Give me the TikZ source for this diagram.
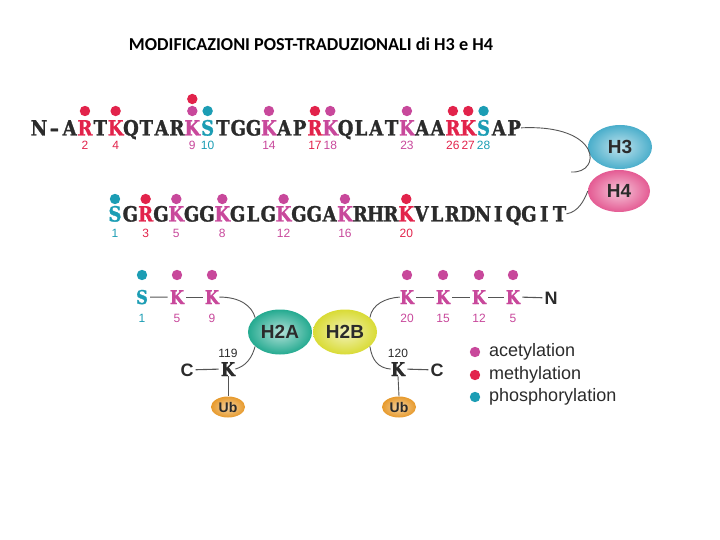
\documentclass[tikz,border=0pt]{standalone}
\usepackage{fontspec}
\setmainfont{Liberation Sans}
\newfontfamily\seqfont{DejaVu Serif}[BoldFeatures={FakeBold=1.3}, FakeStretch=0.86]
\newfontfamily\titlefont{Carlito}
\usetikzlibrary{shapes.geometric}
\definecolor{acet}{HTML}{C8489B}
\definecolor{meth}{HTML}{E2234B}
\definecolor{phos}{HTML}{1C9DB4}
\definecolor{txt}{HTML}{2B2B2B}
\definecolor{lin}{HTML}{555555}
\definecolor{hthree}{HTML}{4AAECB}
\definecolor{hfour}{HTML}{E45B93}
\definecolor{htwoa}{HTML}{24AA90}
\definecolor{htwob}{HTML}{D9DB35}
\definecolor{ubc}{HTML}{E79A2C}
\tikzset{
  seqA/.style={font=\seqfont\bfseries\fontsize{21}{21}\selectfont, inner sep=0pt, anchor=base},
  seqB/.style={font=\seqfont\bfseries\fontsize{19}{19}\selectfont, inner sep=0pt, anchor=base},
  sansL/.style={font=\bfseries\fontsize{18}{18}\selectfont, inner sep=0pt, anchor=base, text=txt},
  num/.style={font=\fontsize{12}{12}\selectfont, inner sep=0pt},
  hist/.style={ellipse, inner sep=0pt, minimum width=64pt, minimum height=44pt,
     font=\bfseries\fontsize{19}{19}\selectfont, text=txt},
  ubnode/.style={ellipse, inner sep=0pt, minimum width=34pt, minimum height=21pt,
     shade, inner color=ubc!45!white, outer color=ubc,
     font=\bfseries\fontsize{14}{14}\selectfont, text=txt},
  conn/.style={draw=lin, line width=0.9pt},
  bond/.style={draw=lin, line width=1.1pt, shorten <=2pt, shorten >=2pt},
  legtext/.style={font=\fontsize{18}{18}\selectfont, anchor=west, text=txt, inner sep=0pt},
}
\begin{document}
\begin{tikzpicture}[x=1pt,y=-1pt]
\useasboundingbox (0,0) rectangle (720,540);

% title
\node[font=\titlefont\bfseries\fontsize{18.2}{18.2}\selectfont, text=black] (title) at (311,44)
  {MODIFICAZIONI POST-TRADUZIONALI di H3 e H4};

% H3 sequence
\foreach \ch/\c [count=\i from 0] in {N/txt,–/txt,A/txt,R/meth,T/txt,K/meth,Q/txt,T/txt,A/txt,R/txt,K/acet,S/phos,T/txt,G/txt,G/txt,K/acet,A/txt,P/txt,R/meth,K/acet,Q/txt,L/txt,A/txt,T/txt,K/acet,A/txt,A/txt,R/meth,K/meth,S/phos,A/txt,P/txt}
  \node[seqA, text=\c] (a\i) at (39+\i*15.33,135.5) {\ch};
\foreach \i/\c/\n [evaluate=\i as \x using 39+\i*15.33] in {3/meth/2,5/meth/4,10/acet/9,11/phos/10,15/acet/14,18/meth/17,19/acet/18,24/acet/23,27/meth/26,28/meth/27,29/phos/28}{
  \fill[\c] (\x,111) circle (5.2);
  \node[num, text=\c] (na\i) at (\x,145.5) {\n};
}
\fill[meth] (39+10*15.33,99) circle (5.2);

% H4 sequence
\foreach \ch/\c [count=\i from 0] in {S/phos,G/txt,R/meth,G/txt,K/acet,G/txt,G/txt,K/acet,G/txt,L/txt,G/txt,K/acet,G/txt,G/txt,A/txt,K/acet,R/txt,H/txt,R/txt,K/meth,V/txt,L/txt,R/txt,D/txt,N/txt,I/txt,Q/txt,G/txt,I/txt,T/txt}
  \node[seqA, text=\c] (b\i) at (115+\i*15.33,221.5) {\ch};
\foreach \i/\c/\n [evaluate=\i as \x using 115+\i*15.33] in {0/phos/1,2/meth/3,4/acet/5,7/acet/8,11/acet/12,15/acet/16,19/meth/20}{
  \fill[\c] (\x,199) circle (5.2);
  \node[num, text=\c] (nb\i) at (\x,233.5) {\n};
}

% connectors to H3 / H4
\coordinate (h3end) at (571,172);
\node[hist, shade, inner color=hthree!35!white, outer color=hthree] (h3) at (620,147) {H3};
\node[hist, shade, inner color=hfour!35!white, outer color=hfour, minimum width=62pt, minimum height=42pt] (h4) at (619,191) {H4};
\draw[conn] (a31.east) .. controls (602,124) and (602,174) .. (h3end);
\draw[conn] (b29.east) .. controls (578,212) and (584,201) .. (h4.west);

% H2A / H2B
\node[hist, shade, inner color=htwoa!35!white, outer color=htwoa, minimum height=45pt] (h2a) at (280,332) {H2A};
\node[hist, shade, inner color=htwob!35!white, outer color=htwob, minimum height=45pt] (h2b) at (345,332) {H2B};

% H2A N-terminal
\node[seqB, text=phos] (s1) at (142,304) {S};
\node[seqB, text=acet] (k5) at (177,304) {K};
\node[seqB, text=acet] (k9) at (212,304) {K};
\fill[phos] (142,275) circle (5.2);
\fill[acet] (177,275) circle (5.2);
\fill[acet] (212,275) circle (5.2);
\node[num, text=phos] (n1) at (142,318) {1};
\node[num, text=acet] (n5) at (177,318) {5};
\node[num, text=acet] (n9) at (212,318) {9};
\draw[bond] (s1.east) -- (k5.west);
\draw[bond] (k5.east) -- (k9.west);
\draw[conn] (k9.east) .. controls (240,297) and (252,306) .. (h2a.150);

% H2A C-terminal
\node[sansL] (c1) at (187,376) {C};
\node[seqB, text=txt] (k119) at (228,376) {K};
\node[num, text=txt] (n119) at (228,353) {119};
\node[ubnode] (ub1) at (228,407) {Ub};
\draw[bond] (c1.east) -- (k119.west);
\draw[conn] (k119.east) .. controls (246,366) and (252,358) .. (h2a.210);
\draw[conn] (k119.south) -- (ub1.north);

% H2B N-terminal
\node[seqB, text=acet] (k20) at (407,304) {K};
\node[seqB, text=acet] (k15) at (443,304) {K};
\node[seqB, text=acet] (k12) at (479,304) {K};
\node[seqB, text=acet] (k5b) at (513,304) {K};
\node[sansL] (nterm) at (551,304) {N};
\foreach \x/\n in {407/20,443/15,479/12,513/5}{
  \fill[acet] (\x,275) circle (5.2);
  \node[num, text=acet] (m\n) at (\x,318) {\n};
}
\draw[bond] (k20.east) -- (k15.west);
\draw[bond] (k15.east) -- (k12.west);
\draw[bond] (k12.east) -- (k5b.west);
\draw[bond] (k5b.east) -- (nterm.west);
\draw[conn] (k20.west) .. controls (386,298) and (372,304) .. (h2b.30);

% H2B C-terminal
\node[seqB, text=txt] (k120) at (398,376) {K};
\node[num, text=txt] (n120) at (398,353) {120};
\node[sansL] (c2) at (437,376) {C};
\node[ubnode] (ub2) at (399,407) {Ub};
\draw[bond] (k120.east) -- (c2.west);
\draw[conn] (h2b.330) .. controls (372,360) and (378,368) .. (k120.west);
\draw[conn] (k120.south) -- (ub2.north);

% legend
\fill[acet] (475,352) circle (5.2);
\fill[meth] (475,375) circle (5.2);
\fill[phos] (475,397) circle (5.2);
\node[legtext] (l1) at (489,352) {acetylation};
\node[legtext] (l2) at (489,375) {methylation};
\node[legtext] (l3) at (489,397) {phosphorylation};
\end{tikzpicture}
\end{document}
